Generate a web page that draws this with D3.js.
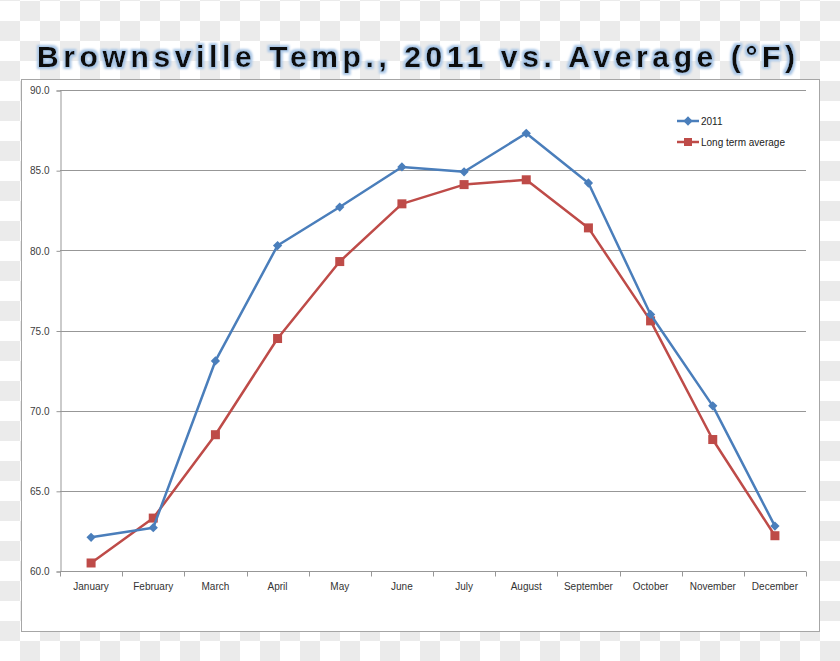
<!DOCTYPE html>
<html>
<head>
<meta charset="utf-8">
<script src="https://cdn.jsdelivr.net/npm/d3@7"></script>
<style>
  body { margin: 0; background: #fff; }
  svg { display: block; }
</style>
</head>
<body>
<svg width="840" height="661"></svg>
<script>
var months = ["January", "February", "March", "April", "May", "June", "July",
  "August", "September", "October", "November", "December"];
var temp2011 = [62.1, 62.7, 73.1, 80.3, 82.7, 85.2, 84.9, 87.3, 84.2, 76.0, 70.3, 62.8];
var tempAverage = [60.5, 63.3, 68.5, 74.5, 79.3, 82.9, 84.1, 84.4, 81.4, 75.6, 68.2, 62.2];
var yTicks = [60, 65, 70, 75, 80, 85, 90];
var seriesNames = ["2011", "Long term average"];

var svg = d3.select("svg"),
  width = +svg.attr("width"),
  height = +svg.attr("height");

// checkerboard backdrop
var defs = svg.append("defs");
var pat = defs.append("pattern")
  .attr("id", "checker")
  .attr("patternUnits", "userSpaceOnUse")
  .attr("width", 40).attr("height", 40)
  .attr("y", 1);
pat.append("rect").attr("width", 40).attr("height", 40).attr("fill", "#ffffff");
pat.append("rect").attr("x", 20).attr("y", 0).attr("width", 20).attr("height", 20).attr("fill", "#ebebeb");
pat.append("rect").attr("x", 0).attr("y", 20).attr("width", 20).attr("height", 20).attr("fill", "#ebebeb");
svg.append("rect").attr("width", width).attr("height", height).attr("fill", "url(#checker)");

// glow for the title
var glow = defs.append("filter").attr("id", "glow")
  .attr("x", "-5%").attr("y", "-30%").attr("width", "110%").attr("height", "160%");
glow.append("feMorphology").attr("in", "SourceAlpha").attr("operator", "dilate").attr("radius", 1.5).attr("result", "fat");
glow.append("feGaussianBlur").attr("in", "fat").attr("stdDeviation", 0.8).attr("result", "blur");
glow.append("feFlood").attr("flood-color", "#a9c6e6").attr("result", "col");
glow.append("feComposite").attr("in", "col").attr("in2", "blur").attr("operator", "in").attr("result", "halo");
var merge = glow.append("feMerge");
merge.append("feMergeNode").attr("in", "halo");
merge.append("feMergeNode").attr("in", "SourceGraphic");

svg.append("text")
  .attr("x", 37).attr("y", 67)
  .attr("textLength", 758)
  .attr("lengthAdjust", "spacing")
  .attr("font-family", "Liberation Sans, Arial, sans-serif")
  .attr("font-weight", "bold")
  .attr("font-size", 30)
  .attr("fill", "#111")
  .attr("filter", "url(#glow)")
  .text("Brownsville Temp., 2011 vs. Average (°F)");

// chart frame
svg.append("rect")
  .attr("x", 21.5).attr("y", 79.5)
  .attr("width", 798).attr("height", 552)
  .attr("fill", "#fff")
  .attr("stroke", "#a6a6a6");

var plotLeft = 60, plotRight = 806, plotTop = 90, plotBottom = 571;

var x = d3.scaleBand().domain(months).range([plotLeft, plotRight]);
var y = d3.scaleLinear().domain([60, 90]).range([plotBottom, plotTop]);

// gridlines
svg.append("g")
  .selectAll("line").data(yTicks).enter().append("line")
  .attr("x1", plotLeft).attr("x2", plotRight)
  .attr("y1", function (d) { return Math.round(y(d)) + 0.5 })
  .attr("y2", function (d) { return Math.round(y(d)) + 0.5 })
  .attr("stroke", "#979797");

// y axis
var yAxis = svg.append("g")
  .attr("transform", "translate(" + (plotLeft + 0.5) + ",0.5)")
  .call(d3.axisLeft(y).tickValues(yTicks).tickSize(4).tickPadding(7)
    .tickFormat(d3.format(".1f")));
yAxis.select(".domain").attr("stroke", "#979797");
yAxis.selectAll(".tick line").attr("stroke", "#979797");
yAxis.selectAll("text")
  .attr("font-family", "Liberation Sans, Arial, sans-serif")
  .attr("font-size", 10)
  .attr("fill", "#404040");

// x axis: ticks on the category boundaries
var xAxis = svg.append("g")
  .attr("transform", "translate(0," + (plotBottom + 0.5) + ")");
xAxis.append("line")
  .attr("x1", plotLeft).attr("x2", plotRight)
  .attr("stroke", "#979797");
var bounds = months.map(function (m) { return x(m) }).concat([plotRight]);
xAxis.selectAll("line.tk").data(bounds).enter().append("line")
  .attr("class", "tk")
  .attr("x1", function (d) { return Math.round(d) + 0.5 })
  .attr("x2", function (d) { return Math.round(d) + 0.5 })
  .attr("y1", 0).attr("y2", 5)
  .attr("stroke", "#979797");
xAxis.selectAll("text").data(months).enter().append("text")
  .attr("x", function (d) { return x(d) + x.bandwidth() / 2 })
  .attr("y", 18)
  .attr("text-anchor", "middle")
  .attr("font-family", "Liberation Sans, Arial, sans-serif")
  .attr("font-size", 10)
  .attr("fill", "#333")
  .text(function (d) { return d });

var line = d3.line()
  .x(function (d, i) { return x(months[i]) + x.bandwidth() / 2 })
  .y(function (d) { return y(d) });

var blue = "#4a7ebb", red = "#be4b48";

// long term average
svg.append("path")
  .attr("d", line(tempAverage))
  .attr("fill", "none")
  .attr("stroke", red)
  .attr("stroke-width", 2.5)
  .attr("stroke-linejoin", "round");
svg.append("g").selectAll("rect").data(tempAverage).enter().append("rect")
  .attr("x", function (d, i) { return x(months[i]) + x.bandwidth() / 2 - 4.5 })
  .attr("y", function (d) { return y(d) - 4.5 })
  .attr("width", 9).attr("height", 9)
  .attr("fill", red);

// 2011
svg.append("path")
  .attr("d", line(temp2011))
  .attr("fill", "none")
  .attr("stroke", blue)
  .attr("stroke-width", 2.5)
  .attr("stroke-linejoin", "round");
var diamond = d3.symbol().type(d3.symbolDiamond2).size(55);
svg.append("g").selectAll("path").data(temp2011).enter().append("path")
  .attr("d", diamond)
  .attr("transform", function (d, i) {
    return "translate(" + (x(months[i]) + x.bandwidth() / 2) + "," + y(d) + ")"
  })
  .attr("fill", blue);

// legend
var legend = svg.append("g").attr("transform", "translate(677,0)");
var legendY = [121, 142];
legend.append("line").attr("x1", 0).attr("x2", 22).attr("y1", legendY[0]).attr("y2", legendY[0])
  .attr("stroke", blue).attr("stroke-width", 2.5);
legend.append("path").attr("d", diamond)
  .attr("transform", "translate(11," + legendY[0] + ")").attr("fill", blue);
legend.append("line").attr("x1", 0).attr("x2", 22).attr("y1", legendY[1]).attr("y2", legendY[1])
  .attr("stroke", red).attr("stroke-width", 2.5);
legend.append("rect").attr("x", 7).attr("y", legendY[1] - 4).attr("width", 8).attr("height", 8)
  .attr("fill", red);
legend.selectAll("text").data(seriesNames).enter().append("text")
  .attr("x", 24)
  .attr("y", function (d, i) { return legendY[i] + 3.5 })
  .attr("font-family", "Liberation Sans, Arial, sans-serif")
  .attr("font-size", 10)
  .attr("fill", "#222")
  .text(function (d) { return d });
</script>
</body>
</html>
